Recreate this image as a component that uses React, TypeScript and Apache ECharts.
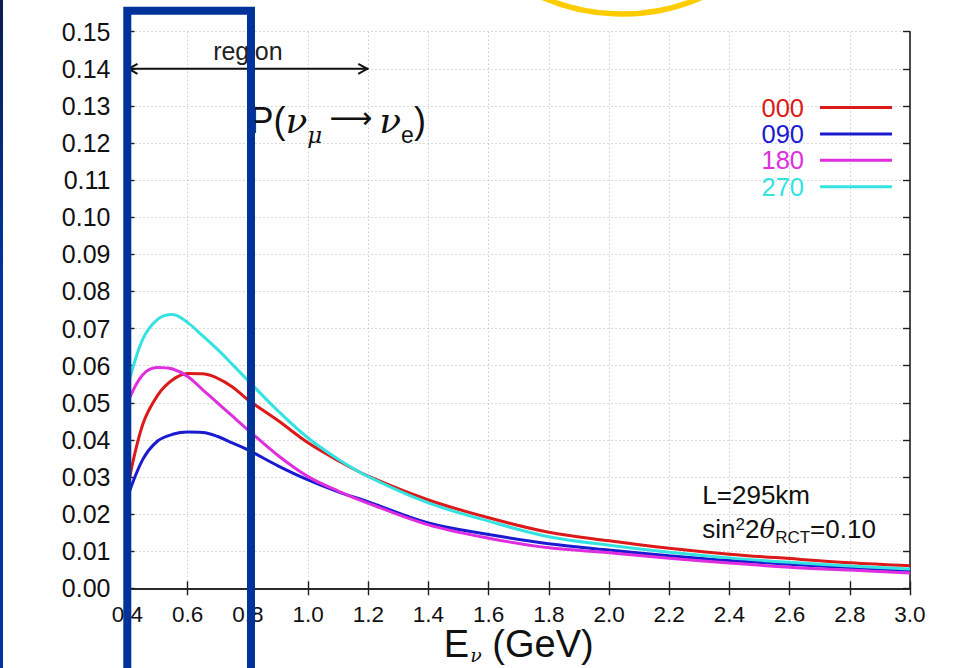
import React, { useEffect, useRef } from "react";
import * as echarts from "echarts";

// Neutrino energy (GeV) at which the appearance probability was sampled
const energy = [0.4, 0.45, 0.5, 0.55, 0.6, 0.65, 0.7, 0.75, 0.8, 0.9, 1.0, 1.1, 1.2, 1.4, 1.6, 1.8, 2.0, 2.2, 2.4, 2.6, 2.8, 3.0];

// P(nu_mu -> nu_e) for each CP phase (degrees)
const p000 = [0.027, 0.044, 0.052, 0.0562, 0.0579, 0.0578, 0.0566, 0.0542, 0.0508, 0.0452, 0.0392, 0.0344, 0.0302, 0.0238, 0.019, 0.0151, 0.0128, 0.0108, 0.0092, 0.008, 0.0069, 0.0061];
const p090 = [0.0245, 0.0346, 0.0397, 0.0415, 0.0421, 0.042, 0.0409, 0.0391, 0.0373, 0.033, 0.0292, 0.026, 0.0233, 0.0176, 0.0145, 0.012, 0.0103, 0.0088, 0.0075, 0.0065, 0.0056, 0.0048];
const p180 = [0.05, 0.0575, 0.0595, 0.0591, 0.0571, 0.0535, 0.0499, 0.0463, 0.0427, 0.0358, 0.0301, 0.0262, 0.0229, 0.0171, 0.0135, 0.0109, 0.0096, 0.0081, 0.0068, 0.0057, 0.0049, 0.0041];
const p270 = [0.054, 0.067, 0.0725, 0.0738, 0.0716, 0.068, 0.0643, 0.0602, 0.056, 0.0478, 0.0405, 0.0348, 0.0301, 0.023, 0.0181, 0.0139, 0.0116, 0.0097, 0.0082, 0.007, 0.006, 0.0052];

const phaseNames = ["000", "090", "180", "270"];
const phaseValues = [p000, p090, p180, p270];
const phaseColors = ["#dc1a1a", "#1a1ad0", "#de2ede", "#34e2e2"];

// Axis ranges and tick steps
const xMin = 0.4;
const xMax = 3.0;
const xStep = 0.2;
const yMin = 0;
const yMax = 0.15;
const yStep = 0.01;

// Annotated energy window and its label
const regionFrom = 0.4;
const regionTo = 1.2;
const regionLevel = 0.14;
const regionLabel = "region";

const SANS = "'Liberation Sans', Arial, Helvetica, sans-serif";
const SERIF = "'DejaVu Serif', 'Liberation Serif', serif";

export default function App() {
  const ref = useRef<HTMLDivElement>(null);

  useEffect(() => {
    const chart = echarts.init(ref.current!, null, { renderer: "svg" });

    const frame = { show: true, lineStyle: { color: "#1e1e1e", width: 1.6 } };
    const ticks = { show: true, inside: true, length: 7, lineStyle: { color: "#1e1e1e", width: 1.4 } };
    const grid = { show: true, lineStyle: { color: "#b4b4b4", width: 1, type: [1, 3] } };

    chart.setOption({
      animation: false,
      backgroundColor: "#ffffff",
      grid: { left: 127.5, right: 45, top: 31.7, bottom: 79.7, outerBoundsMode: "none", containLabel: false },
      xAxis: [
        {
          type: "value",
          min: xMin,
          max: xMax,
          interval: xStep,
          position: "bottom",
          axisLine: frame,
          axisTick: ticks,
          splitLine: grid,
          axisLabel: {
            formatter: (v: number) => v.toFixed(1),
            fontSize: 22.5,
            fontFamily: SANS,
            color: "#111",
            margin: 15,
          },
        },
        {
          type: "value",
          min: xMin,
          max: xMax,
          interval: xStep,
          position: "top",
          axisLine: frame,
          axisTick: ticks,
          axisLabel: { show: false },
          splitLine: { show: false },
        },
      ],
      yAxis: [
        {
          type: "value",
          min: yMin,
          max: yMax,
          interval: yStep,
          position: "left",
          axisLine: frame,
          axisTick: ticks,
          splitLine: grid,
          axisLabel: {
            formatter: (v: number) => v.toFixed(2),
            fontSize: 25,
            fontFamily: SANS,
            color: "#111",
            margin: 17,
          },
        },
        {
          type: "value",
          min: yMin,
          max: yMax,
          interval: yStep,
          position: "right",
          axisLine: frame,
          axisTick: ticks,
          axisLabel: { show: false },
          splitLine: { show: false },
        },
      ],
      legend: {
        orient: "vertical",
        right: 63,
        top: 94.5,
        padding: 0,
        align: "right",
        icon: "rect",
        itemWidth: 72,
        itemHeight: 3,
        itemGap: 0.4,
        selectedMode: false,
        textStyle: { fontSize: 25.5, fontFamily: SANS, padding: [0, 11, 0, 0], lineHeight: 25.4 },
        data: phaseNames.map((name, i) => ({ name, icon: "rect", textStyle: { color: phaseColors[i] } })),
      },
      series: phaseNames.map((name, i) => ({
        name,
        type: "line",
        xAxisIndex: 0,
        yAxisIndex: 0,
        smooth: 0.35,
        symbol: "none",
        showSymbol: false,
        color: phaseColors[i],
        itemStyle: { color: phaseColors[i] },
        lineStyle: { color: phaseColors[i], width: 3 },
        data: energy.map((e, k) => [e, phaseValues[i][k]]),
      })),
    });

    const px = (x: number, y: number) =>
      chart.convertToPixel({ xAxisIndex: 0, yAxisIndex: 0 }, [x, y]) as number[];

    const [a0x, ay] = px(regionFrom, regionLevel);
    const [a1x] = px(regionTo, regionLevel);
    const [rx, ry] = px((regionFrom + regionTo) / 2, 0.1447);
    const [tx, ty] = px(0.805, 0.125);
    const [lx, ly] = px(2.31, 0.0251);
    const [, sy] = px(2.31, 0.0152);
    const [cx, axisY] = px((xMin + xMax) / 2, yMin);

    chart.setOption({
      graphic: [
        // slide edge strip
        {
          type: "rect",
          z: 200,
          shape: { x: 0, y: 0, width: 3, height: 668 },
          style: {
            fill: new echarts.graphic.LinearGradient(0, 0, 0, 1, [
              { offset: 0, color: "#0b1c4e" },
              { offset: 0.4, color: "#0033a0" },
              { offset: 1, color: "#0033a0" },
            ]),
          },
        },
        // highlight circle at the top
        {
          type: "circle",
          z: 200,
          shape: { cx: 622, cy: -185, r: 199 },
          style: { fill: "none", stroke: "#ffcc00", lineWidth: 5.5 },
        },
        // double-headed arrow over the energy window
        {
          type: "line",
          z: 50,
          shape: { x1: a0x, y1: ay, x2: a1x, y2: ay },
          style: { stroke: "#111", lineWidth: 2 },
        },
        {
          type: "polyline",
          z: 50,
          shape: { points: [[a0x + 10, ay - 5], [a0x + 1, ay], [a0x + 10, ay + 5]] },
          style: { stroke: "#111", lineWidth: 2, fill: "none" },
        },
        {
          type: "polyline",
          z: 50,
          shape: { points: [[a1x - 10, ay - 5], [a1x - 1, ay], [a1x - 10, ay + 5]] },
          style: { stroke: "#111", lineWidth: 2, fill: "none" },
        },
        {
          type: "text",
          z: 50,
          x: rx,
          y: ry,
          style: {
            text: regionLabel,
            fontSize: 25,
            fontFamily: SANS,
            fill: "#222",
            align: "center",
            verticalAlign: "middle",
          },
        },
        // energy axis title
        {
          type: "text",
          z: 50,
          x: cx,
          y: axisY + 57,
          style: {
            text: "{e|E}{s|ν}{e| (GeV)}",
            align: "center",
            verticalAlign: "middle",
            fill: "#111",
            rich: {
              e: { fontSize: 38, fontFamily: SANS, lineHeight: 40, verticalAlign: "top", fill: "#111" },
              s: { fontSize: 19, fontFamily: SERIF, fontStyle: "italic", verticalAlign: "top", padding: [20, 0, 0, 1], fill: "#111" },
            },
          },
        },
        // oscillation channel
        {
          type: "text",
          z: 50,
          x: tx,
          y: ty,
          style: {
            text: "{r|P(}{g|ν}{m|μ}{a|⟶}{g|ν}{e|e}{r|)}",
            align: "left",
            verticalAlign: "middle",
            fill: "#111",
            rich: {
              r: { fontSize: 36, fontFamily: SANS, lineHeight: 44, verticalAlign: "top", fill: "#111" },
              g: { fontSize: 36, fontFamily: SERIF, fontStyle: "italic", lineHeight: 44, verticalAlign: "top", fill: "#111" },
              a: { fontSize: 30, fontFamily: "'DejaVu Sans', sans-serif", lineHeight: 44, verticalAlign: "top", padding: [0, 7, 0, 7], fill: "#111" },
              m: { fontSize: 23, fontFamily: SERIF, fontStyle: "italic", verticalAlign: "top", padding: [21, 0, 0, 0], fill: "#111" },
              e: { fontSize: 23, fontFamily: SANS, verticalAlign: "top", padding: [21, 0, 0, 0], fill: "#111" },
            },
          },
        },
        // baseline and mixing parameters
        {
          type: "text",
          z: 50,
          x: lx,
          y: ly,
          style: { text: "L=295km", fontSize: 26, fontFamily: SANS, fill: "#111", align: "left", verticalAlign: "middle" },
        },
        {
          type: "text",
          z: 50,
          x: lx,
          y: sy,
          style: {
            text: "{n|sin}{p|2}{n|2}{t|θ}{b|RCT}{n|=0.10}",
            align: "left",
            verticalAlign: "middle",
            fill: "#111",
            rich: {
              n: { fontSize: 26, fontFamily: SANS, lineHeight: 32, verticalAlign: "top", fill: "#111" },
              t: { fontSize: 26, fontFamily: SERIF, fontStyle: "italic", lineHeight: 32, verticalAlign: "top", fill: "#111" },
              p: { fontSize: 17, fontFamily: SANS, lineHeight: 20, verticalAlign: "top", fill: "#111" },
              b: { fontSize: 17, fontFamily: SANS, verticalAlign: "top", padding: [13, 0, 0, 0], fill: "#111" },
            },
          },
        },
        // frame around the low-energy window
        {
          type: "rect",
          z: 300,
          shape: { x: 127.3, y: 10.8, width: 123.7, height: 720 },
          style: { fill: "none", stroke: "#003399", lineWidth: 8 },
        },
      ],
    });

    return () => chart.dispose();
  }, []);

  return (
    <div
      ref={ref}
      style={{ position: "fixed", left: 0, top: 0, width: 955, height: 668, background: "#fff" }}
    />
  );
}
